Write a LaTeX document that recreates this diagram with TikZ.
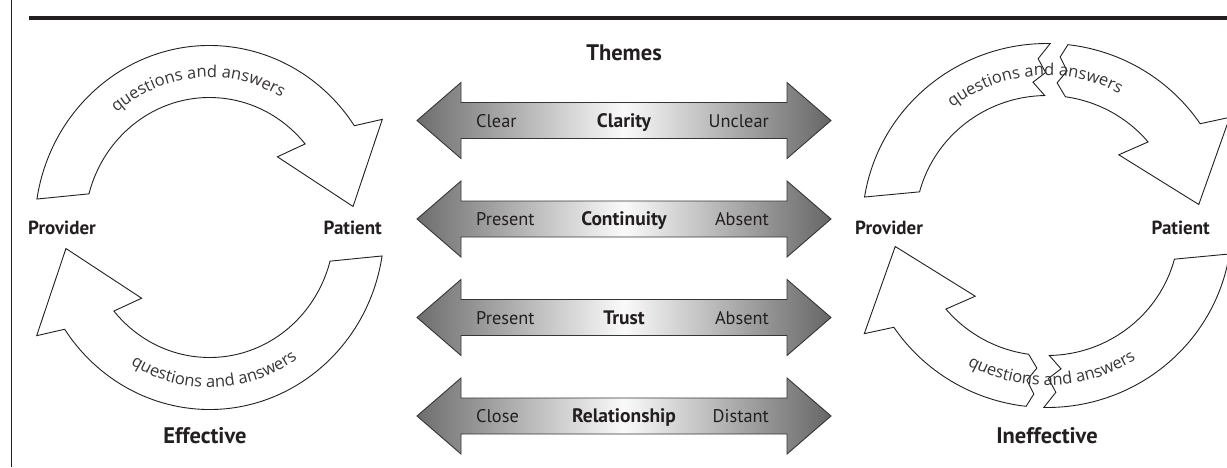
\documentclass[tikz,border=0pt]{standalone}
\usepackage{fontspec}
\setmainfont{PT Sans}
\newfontfamily\arcfont{Open Sans}
\usetikzlibrary{decorations.text}
\usepackage{xcolor}
\definecolor{ink}{HTML}{231F20}

% one curved arrow of a cycle, drawn round the origin
\newcommand{\looparrow}{%
\draw[loop arrow] (171:182) arc[start angle=171, end angle=34, radius=182]
  -- (31:210) -- (8:151) -- (45:100) -- (40:130)
  arc[start angle=40, end angle=165, radius=130] -- cycle;
}
% the same arrow, broken in two
\newcommand{\brokenarrow}{%
\draw[loop arrow] (171:182) arc[start angle=171, end angle=89, radius=182]
  -- (93:167) -- (90.5:153) -- (95.5:144) -- (91:130)
  arc[start angle=91, end angle=165, radius=130] -- cycle;
\draw[loop arrow] (83.5:182) arc[start angle=83.5, end angle=34, radius=182]
  -- (31:210) -- (8:151) -- (45:100) -- (40:130)
  arc[start angle=40, end angle=82, radius=130]
  -- (86:143) -- (82.7:156) -- (85.6:169) -- cycle;
}
\newcommand{\qatext}{%
\path[qa text] (150:150) arc[start angle=150, end angle=40, radius=150];
\path[qa text] (207:160) arc[start angle=207, end angle=337, radius=160];
}

\begin{document}
\begin{tikzpicture}[x=1pt, y=1pt,
  loop arrow/.style={draw=ink, fill=white, line width=0.9pt, line join=miter},
  theme arrow/.style={draw=ink!90, line width=0.9pt, left color=black!57, right color=black!60, middle color=black!2},
  qa text/.style={decorate, decoration={text along path, text align=center, text color=ink!90,
    text={|\arcfont\fontsize{16.5}{18}\selectfont|questions and answers}}},
  cycle label/.style={inner sep=0, text=ink, font=\bfseries\fontsize{19}{22}\selectfont},
  title label/.style={inner sep=0, text=ink, font=\bfseries\fontsize{22.5}{26}\selectfont},
  end label/.style={inner sep=0, text=ink, font=\fontsize{18.3}{21}\selectfont},
  theme label/.style={inner sep=0, text=ink, font=\bfseries\fontsize{19.5}{22}\selectfont}]
\clip (0,0) rectangle (1227,467);

% frame
\draw[line width=4pt, ink] (29,449)--(1227,449);
\draw[line width=1.2pt, ink] (11.5,0)--(11.5,467);

% effective cycle
\begin{scope}[shift={(209.5,239.5)}, xscale=0.96]
 \looparrow
 \begin{scope}[rotate=180] \looparrow \end{scope}
 \qatext
\end{scope}
\node[cycle label, anchor=base west] (provL) at (28,233) {Provider};
\node[cycle label, anchor=base east] (patL) at (382,233) {Patient};
\node[title label, anchor=base] (eff) at (205,24) {Effective};

% ineffective cycle
\begin{scope}[shift={(1047,241.5)}, xscale=1.015]
 \brokenarrow
 \begin{scope}[rotate=180] \brokenarrow \end{scope}
 \qatext
\end{scope}
\node[cycle label, anchor=base west] (provR) at (855,233) {Provider};
\node[cycle label, anchor=base east] (patR) at (1210,233) {Patient};
\node[title label, anchor=base] (ineff) at (1047,24) {Ineffective};

% themes
\node[title label, anchor=base] (themes) at (624,406) {Themes};
\foreach \y/\lo/\th/\hi [count=\i] in {346.5/Clear/Clarity/Unclear, 248/Present/Continuity/Absent,
    149.5/Present/Trust/Absent, 51/Close/Relationship/Distant} {
 \begin{scope}[shift={(624,\y)}]
  \draw[theme arrow] (-207,0)--(-163,38)--(-163,18)--(163,18)--(163,38)--(207,0)
    --(163,-38)--(163,-18)--(-163,-18)--(-163,-38)--cycle;
  \node[end label, anchor=base west] (lo\i) at (-148,-6.5) {\lo};
  \node[theme label, anchor=base] (th\i) at (0,-6.5) {\th};
  \node[end label, anchor=base east] (hi\i) at (145,-6.5) {\hi};
 \end{scope}
}
\end{tikzpicture}
\end{document}
